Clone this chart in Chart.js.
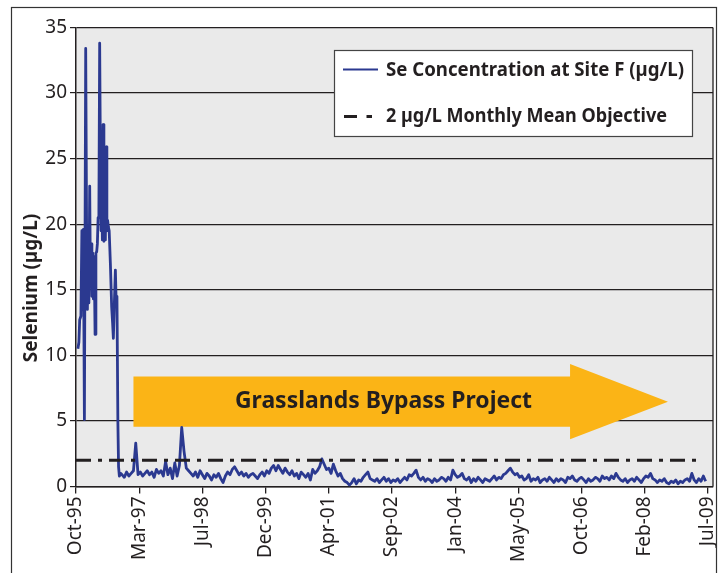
<!DOCTYPE html>
<html>
<head>
<meta charset="utf-8">
<script src="https://cdn.jsdelivr.net/npm/chart.js@4.4.0/dist/chart.umd.min.js"></script>
<style>
  html, body { margin: 0; padding: 0; background: #fff; }
</style>
</head>
<body>
<canvas id="seChart" width="720" height="573"></canvas>
<script>
// Axis ticks (decimal years) and their labels
const tickYears = [1995.75, 1997.125, 1998.5, 1999.875, 2001.25, 2002.625, 2004.0, 2005.375, 2006.75, 2008.125, 2009.5]
const tickLabels = ['Oct-95', 'Mar-97', 'Jul-98', 'Dec-99', 'Apr-01', 'Sep-02', 'Jan-04', 'May-05', 'Oct-06', 'Feb-08', 'Jul-09']

// Se concentration at Site F (decimal year, µg/L)
const years = [
    1995.791, 1995.813, 1995.830, 1995.857, 1995.878, 1995.894, 1995.911, 1995.933, 1995.961, 1995.980,
    1995.998, 1996.015, 1996.030, 1996.048, 1996.063, 1996.080, 1996.096, 1996.113, 1996.128, 1996.146,
    1996.165, 1996.183, 1996.200, 1996.215, 1996.231, 1996.248, 1996.265, 1996.281, 1996.296, 1996.309,
    1996.324, 1996.339, 1996.357, 1996.374, 1996.389, 1996.407, 1996.422, 1996.437, 1996.454, 1996.472,
    1996.498, 1996.526, 1996.546, 1996.563, 1996.585, 1996.607, 1996.624, 1996.641, 1996.661, 1996.676,
    1996.694, 1996.726,
    1996.75, 1996.80, 1996.85, 1996.90, 1996.95, 1997.00, 1997.05, 1997.10, 1997.15, 1997.20,
    1997.25, 1997.30, 1997.35, 1997.40, 1997.45, 1997.50, 1997.55, 1997.60, 1997.65, 1997.70,
    1997.75, 1997.80, 1997.85, 1997.90, 1997.95, 1998.00, 1998.05, 1998.10, 1998.15, 1998.20,
    1998.25, 1998.30, 1998.35, 1998.40, 1998.45, 1998.50, 1998.55, 1998.60, 1998.65, 1998.70,
    1998.75, 1998.80, 1998.85, 1998.90, 1998.95, 1999.00, 1999.05, 1999.10, 1999.15, 1999.20,
    1999.25, 1999.30, 1999.35, 1999.40, 1999.45, 1999.50, 1999.55, 1999.60, 1999.65, 1999.70,
    1999.75, 1999.80, 1999.85, 1999.90, 1999.95, 2000.00, 2000.05, 2000.10, 2000.15, 2000.20,
    2000.25, 2000.30, 2000.35, 2000.40, 2000.45, 2000.50, 2000.55, 2000.60, 2000.65, 2000.70,
    2000.75, 2000.80, 2000.85, 2000.90, 2000.95, 2001.00, 2001.05, 2001.10, 2001.15, 2001.20,
    2001.25, 2001.30, 2001.35, 2001.40, 2001.45, 2001.50, 2001.55, 2001.60, 2001.65, 2001.70,
    2001.75, 2001.80, 2001.85, 2001.90, 2001.95, 2002.00, 2002.05, 2002.10, 2002.15, 2002.20,
    2002.25, 2002.30, 2002.35, 2002.40, 2002.45, 2002.50, 2002.55, 2002.60, 2002.65, 2002.70,
    2002.75, 2002.80, 2002.85, 2002.90, 2002.95, 2003.00, 2003.05, 2003.10, 2003.15, 2003.20,
    2003.25, 2003.30, 2003.35, 2003.40, 2003.45, 2003.50, 2003.55, 2003.60, 2003.65, 2003.70,
    2003.75, 2003.80, 2003.85, 2003.90, 2003.95, 2004.00, 2004.05, 2004.10, 2004.15, 2004.20,
    2004.25, 2004.30, 2004.35, 2004.40, 2004.45, 2004.50, 2004.55, 2004.60, 2004.65, 2004.70,
    2004.75, 2004.80, 2004.85, 2004.90, 2004.95, 2005.00, 2005.05, 2005.10, 2005.15, 2005.20,
    2005.25, 2005.30, 2005.35, 2005.40, 2005.45, 2005.50, 2005.55, 2005.60, 2005.65, 2005.70,
    2005.75, 2005.80, 2005.85, 2005.90, 2005.95, 2006.00, 2006.05, 2006.10, 2006.15, 2006.20,
    2006.25, 2006.30, 2006.35, 2006.40, 2006.45, 2006.50, 2006.55, 2006.60, 2006.65, 2006.70,
    2006.75, 2006.80, 2006.85, 2006.90, 2006.95, 2007.00, 2007.05, 2007.10, 2007.15, 2007.20,
    2007.25, 2007.30, 2007.35, 2007.40, 2007.45, 2007.50, 2007.55, 2007.60, 2007.65, 2007.70,
    2007.75, 2007.80, 2007.85, 2007.90, 2007.95, 2008.00, 2008.05, 2008.10, 2008.15, 2008.20,
    2008.25, 2008.30, 2008.35, 2008.40, 2008.45, 2008.50, 2008.55, 2008.60, 2008.65, 2008.70,
    2008.75, 2008.80, 2008.85, 2008.90, 2008.95, 2009.00, 2009.05, 2009.10, 2009.15, 2009.20,
    2009.25, 2009.30, 2009.35, 2009.40, 2009.45
]
const selenium = [
    10.5, 11.0, 12.7, 13.0, 19.5, 13.5, 19.6, 5.1, 33.4, 20.0,
    13.5, 19.0, 14.0, 22.9, 16.0, 18.5, 14.5, 17.8, 14.3, 17.5,
    11.6, 17.8, 17.9, 18.5, 20.5, 21.0, 33.8, 25.0, 19.5, 23.0,
    18.8, 27.6, 18.7, 22.5, 18.8, 25.9, 19.5, 20.3, 19.8, 19.5,
    17.0, 13.7, 12.5, 11.3, 14.0, 16.5, 14.0, 14.5, 5.0, 1.5,
    0.8, 1.0,
    0.9, 0.7, 1.1, 0.8, 1.0, 1.2, 3.3, 0.9, 1.1, 0.8,
    1.0, 1.2, 0.9, 1.1, 0.7, 1.3, 1.0, 1.2, 0.8, 1.9,
    0.9, 1.4, 0.6, 1.8, 0.8, 1.6, 4.5, 2.7, 1.4, 1.2,
    1.0, 0.8, 1.1, 0.7, 1.2, 0.9, 0.6, 1.0, 0.8, 0.5,
    0.9, 0.7, 1.0, 0.6, 0.3, 0.8, 1.1, 0.9, 1.3, 1.5,
    1.2, 0.9, 1.1, 0.8, 1.0, 0.7, 0.9, 1.0, 0.8, 0.6,
    0.9, 1.1, 0.8, 1.2, 1.0, 1.4, 1.6, 1.2, 1.6, 1.3,
    1.0, 1.4, 1.1, 0.9, 1.2, 0.8, 1.0, 0.6, 1.1, 0.9,
    0.7, 1.0, 0.5, 1.3, 1.0, 1.2, 1.5, 2.1, 1.7, 1.3,
    1.4, 1.0, 1.7, 1.2, 0.8, 1.0, 0.6, 0.4, 0.3, 0.1,
    0.3, 0.6, 0.2, 0.5, 0.4, 0.7, 0.9, 1.1, 0.6, 0.5,
    0.4, 0.6, 0.3, 0.5, 0.7, 0.4, 0.6, 0.3, 0.5, 0.4,
    0.6, 0.3, 0.5, 0.7, 0.5, 0.9, 0.8, 1.0, 1.25, 0.7,
    0.5, 0.7, 0.4, 0.6, 0.5, 0.3, 0.6, 0.4, 0.5, 0.7,
    0.6, 0.4, 0.7, 0.5, 1.25, 0.9, 0.7, 0.8, 1.0, 0.6,
    0.5, 0.7, 0.3, 0.6, 0.4, 0.7, 0.5, 0.3, 0.6, 0.5,
    0.4, 0.6, 0.8, 0.5, 0.7, 0.6, 0.9, 1.0, 1.2, 1.4,
    1.1, 0.9, 1.0, 0.7, 0.8, 0.5, 0.6, 0.9, 0.4, 0.6,
    0.5, 0.7, 0.3, 0.5, 0.6, 0.4, 0.7, 0.5, 0.3, 0.6,
    0.4, 0.6, 0.5, 0.3, 0.7, 0.6, 0.8, 0.5, 0.4, 0.6,
    0.7, 0.5, 0.3, 0.6, 0.4, 0.5, 0.7, 0.6, 0.4, 0.8,
    0.6, 0.7, 0.5, 0.8, 0.6, 1.0, 0.7, 0.5, 0.4, 0.6,
    0.3, 0.5, 0.6, 0.4, 0.7, 0.5, 0.3, 0.6, 0.8, 0.7,
    1.0, 0.6, 0.5, 0.3, 0.5, 0.4, 0.6, 0.3, 0.2, 0.4,
    0.3, 0.5, 0.2, 0.4, 0.3, 0.5, 0.6, 0.4, 1.0, 0.5,
    0.3, 0.6, 0.4, 0.8, 0.4
]

// 2 µg/L monthly mean objective
const objectiveYears = [1995.75, 2009.36]
const objectiveValues = [2, 2]

const seriesNames = ['Se Concentration at Site F (µg/L)', '2 µg/L Monthly Mean Objective']
const arrowLabel = 'Grasslands Bypass Project'

const blue = '#2B3990'
const ink = '#231F20'
const orange = '#FBB416'
const FONT = "'Noto Sans', sans-serif"

const extras = {
    id: 'extras',
    beforeDraw(chart) {
        const { ctx, chartArea: a } = chart
        ctx.save()
        ctx.fillStyle = '#fff'
        ctx.fillRect(0, 0, chart.width, chart.height)
        ctx.fillStyle = '#EAEAEA'
        ctx.fillRect(a.left, a.top, a.right - a.left, a.bottom - a.top)
        ctx.restore()
    },
    beforeDatasetsDraw(chart) {
        // the project arrow, placed in data units
        const { ctx, scales: { x, y } } = chart
        ctx.save()
        ctx.fillStyle = orange
        ctx.beginPath()
        ctx.moveTo(x.getPixelForValue(1997.0), y.getPixelForValue(8.38))
        ctx.lineTo(x.getPixelForValue(2006.5), y.getPixelForValue(8.38))
        ctx.lineTo(x.getPixelForValue(2006.5), y.getPixelForValue(9.35))
        ctx.lineTo(x.getPixelForValue(2008.63), y.getPixelForValue(6.47))
        ctx.lineTo(x.getPixelForValue(2006.5), y.getPixelForValue(3.6))
        ctx.lineTo(x.getPixelForValue(2006.5), y.getPixelForValue(4.56))
        ctx.lineTo(x.getPixelForValue(1997.0), y.getPixelForValue(4.56))
        ctx.closePath()
        ctx.fill()
        ctx.fillStyle = ink
        ctx.font = `bold 24px ${FONT}`
        ctx.textAlign = 'center'
        ctx.textBaseline = 'middle'
        ctx.fillText(arrowLabel, x.getPixelForValue(2002.44), y.getPixelForValue(6.5), 297)
        ctx.restore()
    },
    afterDraw(chart) {
        const { ctx, chartArea: a } = chart
        ctx.save()
        // right edge of plot
        ctx.strokeStyle = ink
        ctx.lineWidth = 1.3
        ctx.beginPath()
        ctx.moveTo(a.right, a.top)
        ctx.lineTo(a.right, a.bottom)
        ctx.stroke()

        // outer frame
        ctx.strokeStyle = '#333'
        ctx.lineWidth = 1.2
        ctx.strokeRect(11.5, 7.5, 705, 600)

        // y axis title
        ctx.save()
        ctx.translate(32, 288)
        ctx.rotate(-Math.PI / 2)
        ctx.fillStyle = ink
        ctx.font = `bold 19px ${FONT}`
        ctx.textAlign = 'center'
        ctx.textBaseline = 'middle'
        ctx.fillText('Selenium (µg/L)', 0, 0, 162)
        ctx.restore()

        // legend
        ctx.fillStyle = '#fff'
        ctx.fillRect(334, 50.5, 358, 86)
        ctx.strokeStyle = '#444'
        ctx.lineWidth = 1.2
        ctx.strokeRect(334.5, 50.5, 358, 86)

        ctx.strokeStyle = blue
        ctx.lineWidth = 2.2
        ctx.beginPath()
        ctx.moveTo(343, 69.5)
        ctx.lineTo(378, 69.5)
        ctx.stroke()

        ctx.strokeStyle = ink
        ctx.lineWidth = 3
        ctx.beginPath()
        ctx.moveTo(344, 116.5)
        ctx.lineTo(357, 116.5)
        ctx.moveTo(366.5, 116.5)
        ctx.lineTo(372, 116.5)
        ctx.stroke()

        ctx.fillStyle = ink
        ctx.font = `bold 20px ${FONT}`
        ctx.textAlign = 'left'
        ctx.textBaseline = 'middle'
        ctx.fillText(seriesNames[0], 386, 70, 298)
        ctx.fillText(seriesNames[1], 386, 116, 281)
        ctx.restore()
    }
}

const render = () => {
    const tickFont = { family: FONT, size: 19 }

    new Chart(document.getElementById('seChart'), {
        type: 'line',
        data: {
            datasets: [
                {
                    label: seriesNames[1],
                    data: objectiveYears.map((yr, i) => ({ x: yr, y: objectiveValues[i] })),
                    borderColor: ink,
                    borderWidth: 3,
                    borderDash: [15, 7, 4, 7],
                    pointRadius: 0,
                    order: 0,
                },
                {
                    label: seriesNames[0],
                    data: years.map((yr, i) => ({ x: yr, y: selenium[i] })),
                    borderColor: blue,
                    borderWidth: 2.8,
                    borderJoinStyle: 'round',
                    pointRadius: 0,
                    tension: 0,
                    order: 1,
                },
            ],
        },
        options: {
            responsive: false,
            animation: false,
            layout: { padding: { top: 27.5, right: 7, bottom: 0, left: 0 } },
            plugins: { legend: { display: false }, tooltip: { enabled: false } },
            scales: {
                x: {
                    type: 'linear',
                    min: 1995.75,
                    max: 2009.61,
                    afterBuildTicks: (scale) => { scale.ticks = tickYears.map(v => ({ value: v })) },
                    afterFit: (scale) => {
                        scale.height = 86.5
                        scale.paddingLeft = 0
                        scale.paddingRight = 0
                    },
                    ticks: {
                        callback: (v, i) => tickLabels[i],
                        autoSkip: false,
                        minRotation: 90,
                        maxRotation: 90,
                        font: tickFont,
                        color: ink,
                        padding: 3,
                    },
                    grid: { drawOnChartArea: false, tickLength: 7, color: ink, lineWidth: 1.3 },
                    border: { color: ink, width: 1.5 },
                },
                y: {
                    min: 0,
                    max: 35,
                    afterFit: (scale) => {
                        scale.width = 76
                        scale.paddingTop = 0
                        scale.paddingBottom = 0
                    },
                    ticks: { stepSize: 5, font: tickFont, color: ink, padding: 3 },
                    grid: { color: ink, lineWidth: 1.2, tickLength: 6 },
                    border: { color: ink, width: 1.5 },
                },
            },
        },
        plugins: [extras],
    })
}

render()
</script>
</body>
</html>
